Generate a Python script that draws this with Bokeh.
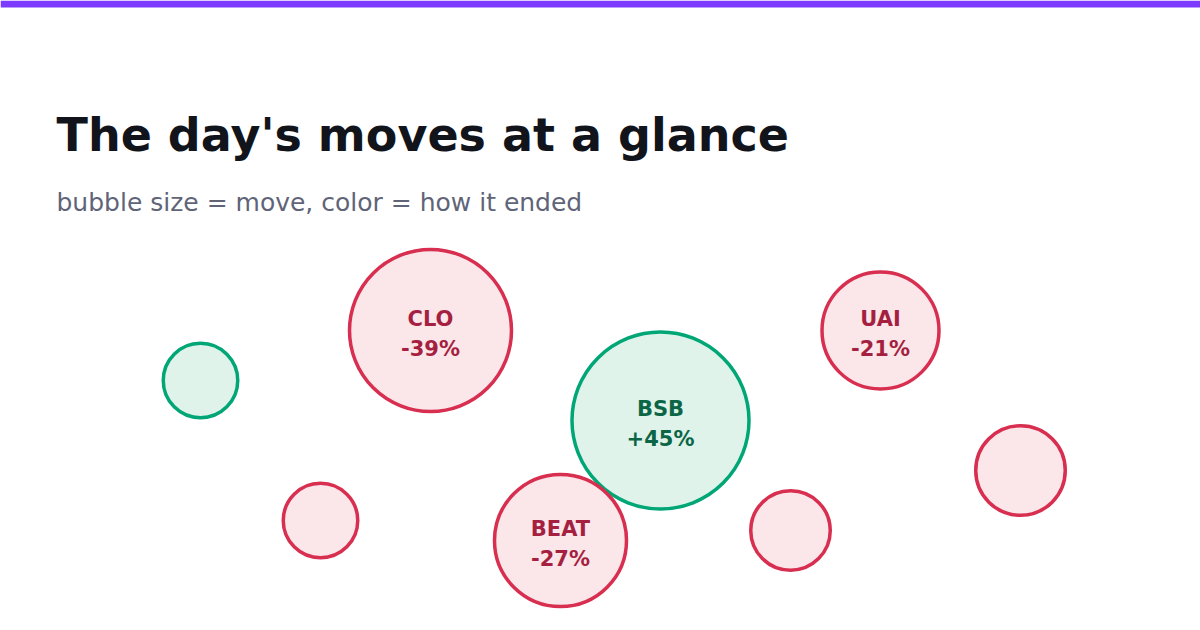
from bokeh.plotting import figure
from bokeh.models import Range1d, ColumnDataSource, GlobalInlineStyleSheet
from bokeh.core.properties import value
from bokeh.embed import file_html
from bokeh.resources import INLINE

# ---- data ----
tickers = ["", "CLO", "UAI", "BSB", "", "BEAT", "", ""]
moves = [4, -39, -21, 45, -4, -27, -6, -10]          # % move
pos_x = [200, 430, 880, 660, 320, 560, 790, 1020]     # bubble centre x (px)
pos_y = [380, 330, 330, 420, 520, 540, 530, 470]      # bubble centre y (px)

TITLE = "The day's moves at a glance"
SUBTITLE = "bubble size = move, color = how it ended"

W, H = 1200, 630
UP_STROKE, UP_FILL, UP_TEXT = "#00a676", "#dff3ea", "#0b6646"
DN_STROKE, DN_FILL, DN_TEXT = "#d82e4f", "#fbe6ea", "#a51f40"

radius = [32.25 + 1.25 * abs(m) for m in moves]
stroke = [UP_STROKE if m > 0 else DN_STROKE for m in moves]
fill = [UP_FILL if m > 0 else DN_FILL for m in moves]
tcol = [UP_TEXT if m > 0 else DN_TEXT for m in moves]
pct = [(("+%d%%" % m) if m > 0 else ("%d%%" % m)) if t else "" for t, m in zip(tickers, moves)]

src = ColumnDataSource(dict(x=pos_x, y=pos_y, r=radius, stroke=stroke, fill=fill,
                            tcol=tcol, name=tickers, pct=pct,
                            y_name=[y - 12 for y in pos_y], y_pct=[y + 18 for y in pos_y]))

css = GlobalInlineStyleSheet(css="html, body { margin: 0 !important; padding: 0 !important; overflow: hidden; }")

p = figure(width=W, height=H, output_backend="svg", toolbar_location=None,
           x_range=Range1d(0, W), y_range=Range1d(H, 0),
           x_axis_type=None, y_axis_type=None, min_border=0,
           background_fill_color="white", border_fill_color="white",
           outline_line_color=None, stylesheets=[css])
p.grid.visible = False

# top accent bar
p.quad(left=[0], right=[W], top=[0], bottom=[7], fill_color="#7c3aff", line_color=None)

# title / subtitle
p.text(x=[56], y=[134], text=[TITLE], text_font=value("DejaVu Sans"),
       text_font_size="46px", text_font_style="bold", text_color="#12141c",
       text_baseline="alphabetic", text_align="left")
p.text(x=[56], y=[202], text=[SUBTITLE], text_font=value("DejaVu Sans"),
       text_font_size="25px", text_color="#5f6478",
       text_baseline="alphabetic", text_align="left")

# bubbles
p.circle(x="x", y="y", radius="r", source=src, fill_color="fill",
         line_color="stroke", line_width=3.5)
p.text(x="x", y="y_name", text="name", source=src, text_color="tcol",
       text_font=value("DejaVu Sans"), text_font_size="21px", text_font_style="bold",
       text_align="center", text_baseline="alphabetic")
p.text(x="x", y="y_pct", text="pct", source=src, text_color="tcol",
       text_font=value("DejaVu Sans"), text_font_size="21px", text_font_style="bold",
       text_align="center", text_baseline="alphabetic")

open("out.html", "w").write(file_html(p, INLINE))
